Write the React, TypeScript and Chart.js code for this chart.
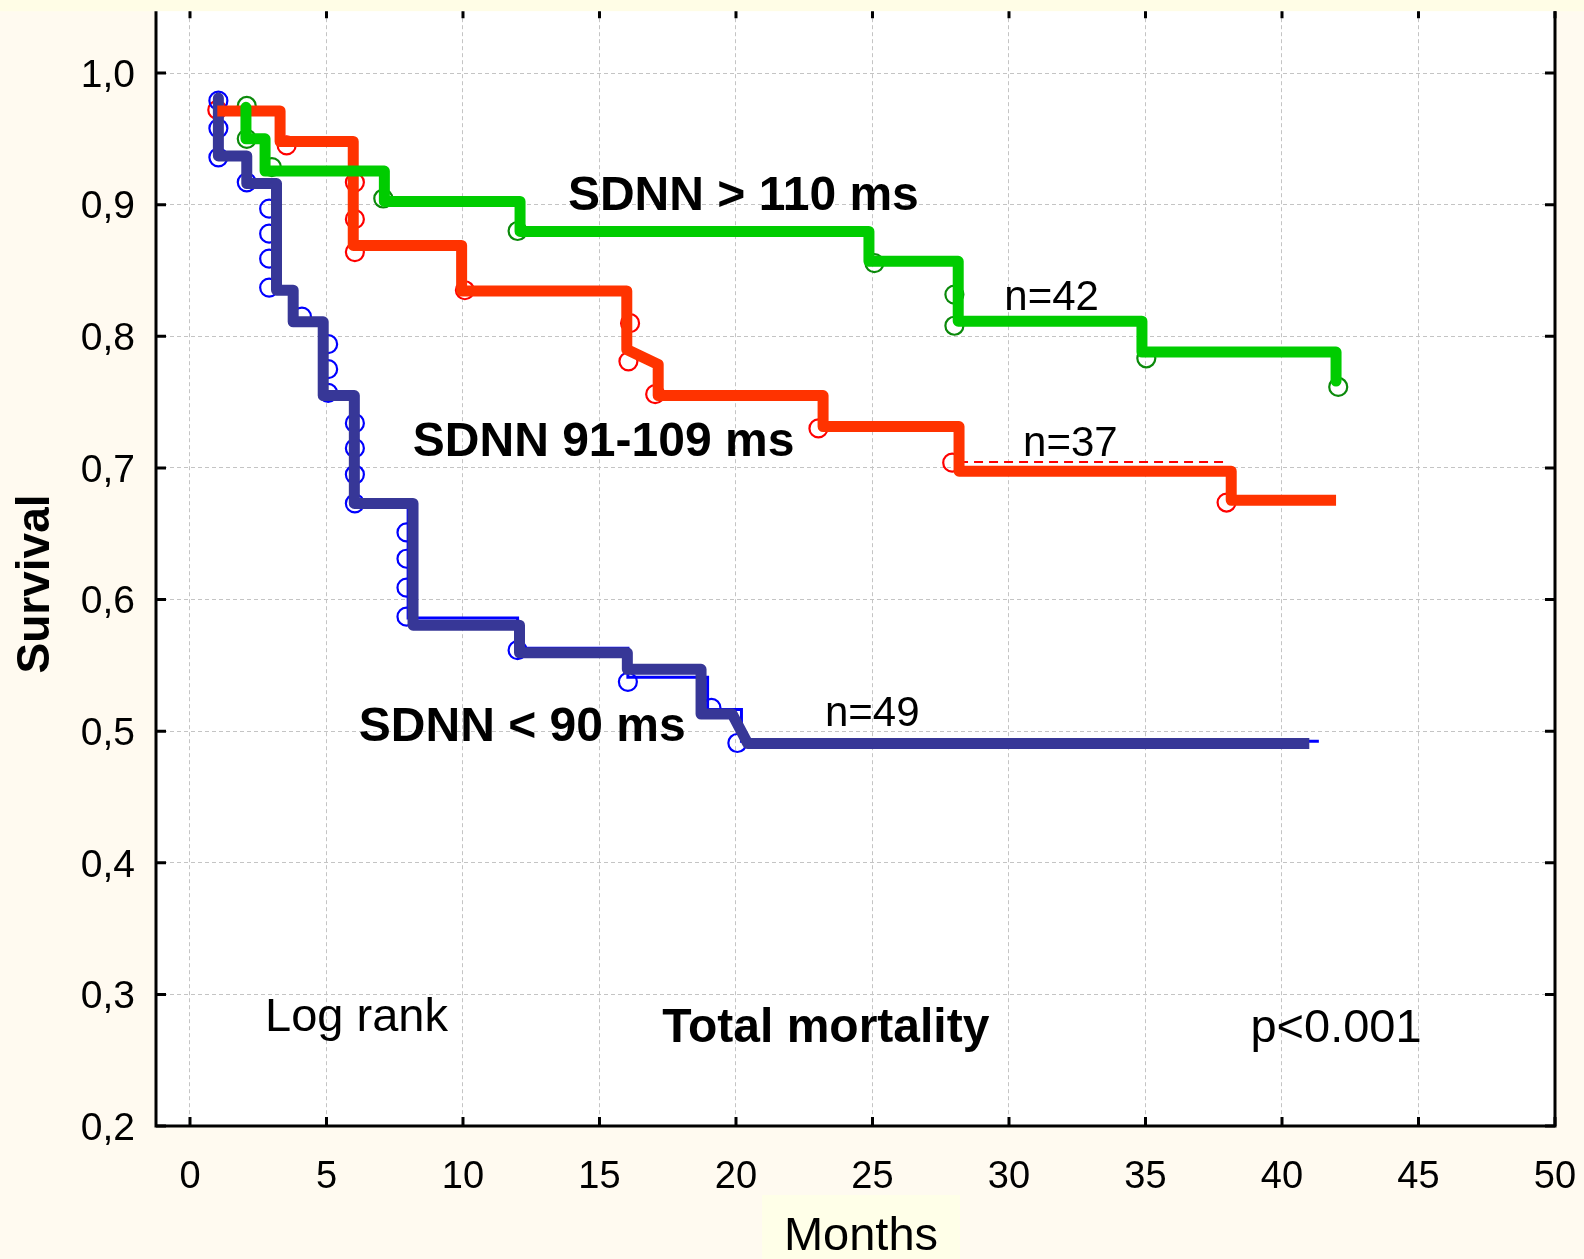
import React, { useEffect, useRef } from 'react';
import { Chart, registerables } from 'chart.js';

Chart.register(...registerables);

const FONT = '"Liberation Sans", Arial, Helvetica, sans-serif';

// Axis ticks
const xTickValues = [0, 5, 10, 15, 20, 25, 30, 35, 40, 45, 50];
const yTickValues = [0.2, 0.3, 0.4, 0.5, 0.6, 0.7, 0.8, 0.9, 1.0];

// SDNN < 90 ms — thick traced curve (step times, survival after each step, optional slanted end)
const lowTimes = [1.04, 1.04, 2.08, 3.17, 3.78, 4.88, 6.02, 8.17, 12.07, 16.02, 18.72, 19.86, 41.0];
const lowSurvival = [0.981, 0.937, 0.916, 0.835, 0.811, 0.755, 0.673, 0.5805, 0.5595, 0.547, 0.513, 0.4906, 0.4906];
const lowSlantTo = [null, null, null, null, null, null, null, null, null, null, null, 20.43, null];
// SDNN < 90 ms — thin underlying estimate
const lowThinTimes = [1.04, 1.04, 2.08, 3.1, 3.78, 4.85, 5.95, 7.99, 12.0, 16.04, 18.96, 20.2, 41.35];
const lowThinSurvival = [0.981, 0.937, 0.916, 0.835, 0.811, 0.754, 0.673, 0.586, 0.563, 0.541, 0.5165, 0.4924, 0.4924];
// SDNN < 90 ms — censored marks
const lowCensorX = [1.04, 1.04, 1.04, 2.08, 2.9, 2.9, 2.9, 2.9, 4.1, 5.06, 5.06, 5.06, 6.04, 6.04, 6.04, 6.04, 7.93, 7.93, 7.93, 7.93, 12.0, 16.04, 19.1, 20.05];
const lowCensorY = [0.979, 0.958, 0.936, 0.917, 0.897, 0.878, 0.859, 0.837, 0.815, 0.794, 0.775, 0.757, 0.734, 0.715, 0.695, 0.673, 0.651, 0.631, 0.609, 0.587, 0.5615, 0.5375, 0.5177, 0.491];

// SDNN 91-109 ms
const midTimes = [1.0, 3.3, 5.98, 9.95, 16.0, 16.0, 17.15, 23.19, 28.17, 38.14, 41.98];
const midSurvival = [0.9712, 0.948, 0.869, 0.8345, 0.79, 0.7786, 0.755, 0.7314, 0.6975, 0.6754, 0.6754];
const midSlantTo = [null, null, null, null, null, 17.15, null, null, null, null, null];
const midDashedX = [28.17, 38.0];
const midDashedY = [0.7045, 0.7045];
const midCensorX = [1.0, 3.54, 6.04, 6.04, 6.04, 10.07, 16.12, 16.06, 17.04, 23.02, 27.92, 37.97];
const midCensorY = [0.972, 0.945, 0.917, 0.889, 0.864, 0.835, 0.81, 0.781, 0.756, 0.73, 0.704, 0.6737];

// SDNN > 110 ms
const highTimes = [2.05, 2.05, 2.75, 7.12, 12.09, 24.87, 28.14, 34.87, 41.98];
const highSurvival = [0.974, 0.95, 0.9255, 0.9025, 0.8797, 0.857, 0.8115, 0.788, 0.766];
const highCensorX = [2.08, 2.08, 3.0, 7.08, 12.0, 25.07, 28.0, 28.0, 35.03, 42.06];
const highCensorY = [0.975, 0.95, 0.9286, 0.9047, 0.88, 0.8556, 0.8317, 0.808, 0.7833, 0.7615];

// Text placed in the plot (data coordinates of text centre)
const notes = [
  { text: 'SDNN > 110 ms', x: 20.27, y: 0.909, bold: true, size: 48 },
  { text: 'SDNN 91-109 ms', x: 15.15, y: 0.7223, bold: true, size: 48 },
  { text: 'SDNN < 90 ms', x: 12.17, y: 0.5053, bold: true, size: 48 },
  { text: 'n=42', x: 31.56, y: 0.8312, bold: false, size: 42 },
  { text: 'n=37', x: 32.25, y: 0.7207, bold: false, size: 42 },
  { text: 'n=49', x: 24.99, y: 0.5152, bold: false, size: 42 },
  { text: 'Log rank', x: 6.1, y: 0.2848, bold: false, size: 47 },
  { text: 'Total mortality', x: 23.29, y: 0.2771, bold: true, size: 48 },
  { text: 'p<0.001', x: 41.98, y: 0.2763, bold: false, size: 47 },
];

function stepPath(times: number[], levels: number[], slant?: (number | null)[]) {
  const pts = [{ x: times[0], y: levels[0] }];
  for (let i = 1; i < times.length; i++) {
    pts.push({ x: times[i], y: levels[i - 1] });
    const s = slant ? slant[i] : null;
    pts.push({ x: s != null ? s : times[i], y: levels[i] });
  }
  return pts;
}

function zipPts(xs: number[], ys: number[]) {
  return xs.map((x, i) => ({ x, y: ys[i] }));
}

const decor = {
  id: 'decor',
  beforeDraw(chart: any) {
    const { ctx, chartArea: a, width, height } = chart;
    ctx.save();
    ctx.fillStyle = '#fffaf0';
    ctx.fillRect(0, 0, width, height);
    ctx.fillStyle = '#fffde6';
    ctx.fillRect(0, 0, width, a.top);
    // box behind x title
    ctx.font = `47px ${FONT}`;
    const tw = ctx.measureText('Months').width;
    const cx = 861;
    ctx.fillStyle = '#ffffe8';
    ctx.fillRect(cx - tw / 2 - 22, 1195, tw + 44, height - 1195);
    ctx.fillStyle = '#ffffff';
    ctx.fillRect(a.left, a.top, a.right - a.left, a.bottom - a.top);
    ctx.restore();
  },
  afterDraw(chart: any) {
    const { ctx, chartArea: a } = chart;
    const xs = chart.scales.x;
    const ys = chart.scales.y;
    ctx.save();
    ctx.strokeStyle = '#000';
    ctx.lineWidth = 3;
    ctx.lineCap = 'butt';
    // axes
    ctx.beginPath();
    ctx.moveTo(a.left, a.top);
    ctx.lineTo(a.left, a.bottom);
    ctx.lineTo(a.right, a.bottom);
    ctx.lineTo(a.right, a.top);
    ctx.stroke();
    // inward ticks
    ctx.beginPath();
    xTickValues.forEach((v) => {
      const px = xs.getPixelForValue(v);
      ctx.moveTo(px, a.bottom);
      ctx.lineTo(px, a.bottom - 9);
      ctx.moveTo(px, a.top);
      ctx.lineTo(px, a.top + 7);
    });
    yTickValues.forEach((v) => {
      const py = ys.getPixelForValue(v);
      ctx.moveTo(a.left, py);
      ctx.lineTo(a.left + 10, py);
      ctx.moveTo(a.right, py);
      ctx.lineTo(a.right - 10, py);
    });
    ctx.stroke();

    // notes
    ctx.fillStyle = '#000';
    ctx.textAlign = 'center';
    ctx.textBaseline = 'alphabetic';
    notes.forEach((n) => {
      ctx.font = `${n.bold ? 'bold ' : ''}${n.size}px ${FONT}`;
      const px = xs.getPixelForValue(n.x);
      const py = ys.getPixelForValue(n.y) + 0.358 * n.size;
      ctx.fillText(n.text, px, py);
    });

    // axis titles
    ctx.font = `47px ${FONT}`;
    ctx.fillText('Months', 861, 1233 + 0.358 * 47);
    ctx.save();
    ctx.translate(32.5, 584);
    ctx.rotate(-Math.PI / 2);
    ctx.font = `bold 46px ${FONT}`;
    ctx.fillText('Survival', 0, 0.358 * 46);
    ctx.restore();
    ctx.restore();
  },
};

const thick = (data: any[], color: string, order: number) => ({
  type: 'line',
  data,
  borderColor: color,
  backgroundColor: color,
  borderWidth: 11,
  borderJoinStyle: 'round',
  borderCapStyle: 'butt',
  pointRadius: 0,
  tension: 0,
  fill: false,
  order,
});

const marks = (data: any[], color: string, order: number) => ({
  type: 'line',
  data,
  showLine: false,
  pointStyle: 'circle',
  pointRadius: 9,
  pointBorderWidth: 2.2,
  pointBorderColor: color,
  pointBackgroundColor: 'rgba(0,0,0,0)',
  borderColor: color,
  order,
});

const noPad = (s: any) => {
  s.paddingTop = 0;
  s.paddingBottom = 0;
  s.paddingLeft = 0;
  s.paddingRight = 0;
};

export default function App() {
  const ref = useRef<HTMLCanvasElement>(null);
  useEffect(() => {
    if (!ref.current) return;
    const chart = new Chart(ref.current, {
      type: 'line',
      data: {
        datasets: [
          {
            type: 'line',
            data: stepPath(lowThinTimes, lowThinSurvival),
            borderColor: '#0000ff',
            borderWidth: 3,
            pointRadius: 0,
            fill: false,
            order: 20,
          },
          {
            type: 'line',
            data: zipPts(midDashedX, midDashedY),
            borderColor: '#ff0000',
            borderWidth: 2,
            borderDash: [9, 6],
            pointRadius: 0,
            fill: false,
            order: 20,
          },
          marks(zipPts(lowCensorX, lowCensorY), '#0000ff', 10),
          marks(zipPts(midCensorX, midCensorY), '#ff0000', 10),
          marks(zipPts(highCensorX, highCensorY), '#0b8a0b', 10),
          thick(stepPath(lowTimes, lowSurvival, lowSlantTo), '#373797', 3),
          thick(stepPath(midTimes, midSurvival, midSlantTo), '#ff3300', 2),
          thick(stepPath(highTimes, highSurvival), '#00cc00', 1),
        ] as any,
      },
      options: {
        animation: false,
        responsive: false,
        maintainAspectRatio: false,
        events: [],
        layout: { padding: { top: 10, right: 29, left: 0, bottom: 0 } },
        plugins: { legend: { display: false }, tooltip: { enabled: false }, title: { display: false } },
        scales: {
          x: {
            type: 'linear',
            min: -1.245,
            max: 50,
            afterBuildTicks: (s: any) => {
              s.ticks = xTickValues.map((v) => ({ value: v }));
            },
            afterFit: (s: any) => {
              s.height = 133;
              noPad(s);
            },
            ticks: {
              color: '#000',
              padding: 29,
              maxRotation: 0,
              autoSkip: false,
              font: { family: FONT, size: 38 },
              callback: (v: any) => String(v),
            },
            grid: { color: '#c4c4c4', lineWidth: 1, drawTicks: false },
            border: { display: false, dash: [4, 3] },
          },
          y: {
            type: 'linear',
            min: 0.2,
            max: 1.047,
            afterBuildTicks: (s: any) => {
              s.ticks = yTickValues.map((v) => ({ value: v }));
            },
            afterFit: (s: any) => {
              s.width = 156;
              noPad(s);
            },
            ticks: {
              color: '#000',
              padding: 21,
              labelOffset: 3,
              autoSkip: false,
              font: { family: FONT, size: 39 },
              callback: (v: any) => Number(v).toFixed(1).replace('.', ','),
            },
            grid: { color: '#c4c4c4', lineWidth: 1, drawTicks: false },
            border: { display: false, dash: [4, 3] },
          },
        },
      } as any,
      plugins: [decor],
    });
    return () => chart.destroy();
  }, []);

  return (
    <div style={{ position: 'fixed', left: 0, top: 0, width: 1584, height: 1259 }}>
      <canvas ref={ref} width={1584} height={1259} style={{ display: 'block', width: 1584, height: 1259 }} />
    </div>
  );
}
